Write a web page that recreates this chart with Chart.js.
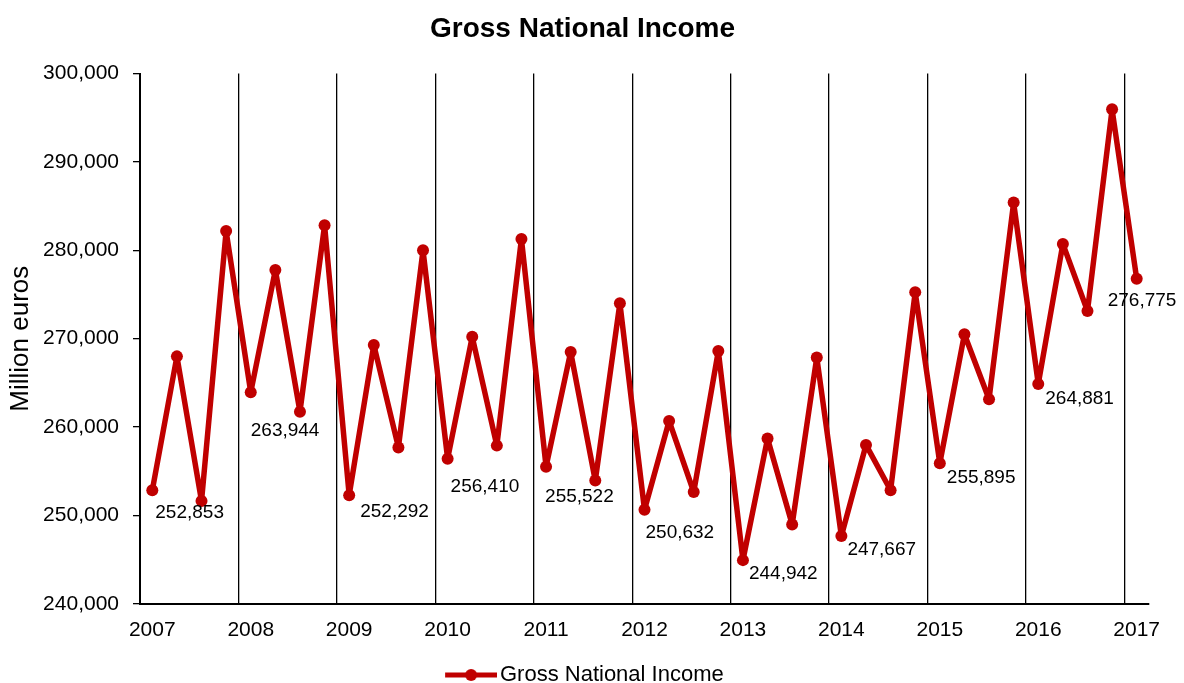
<!DOCTYPE html>
<html lang="en">
  <head>
    <meta charset="UTF-8" />
    <title>Gross National Income</title>
    <script src="https://cdn.jsdelivr.net/npm/chart.js@4.4.1/dist/chart.umd.min.js"></script>
    <style>
      body { margin: 0; background: #fff; }
    </style>
  </head>
  <body>
    <canvas id="chart" width="1184" height="683"></canvas>
    <script>
      // Gross national income per quarter, million euros, 2007 Q1 .. 2017 Q1
      const years = ['2007', '2008', '2009', '2010', '2011', '2012', '2013', '2014', '2015', '2016', '2017']
      const gni = [
        252853, 268000, 251640, 282180,
        263944, 277780, 261740, 282830,
        252292, 269290, 257700, 280000,
        256410, 270220, 257900, 281290,
        255522, 268490, 253940, 274020,
        250632, 260690, 252650, 268610,
        244942, 258710, 248970, 267880,
        247667, 257980, 252850, 275270,
        255895, 270500, 263150, 285410,
        264881, 280730, 273130, 295960,
        276775,
      ]
      // first quarter of each year gets its value written next to it
      const labelled = [0, 4, 8, 12, 16, 20, 24, 28, 32, 36, 40]

      const red = '#C00000'
      const font = 'Arial, "Liberation Sans", sans-serif'
      Chart.defaults.font.family = font
      Chart.defaults.color = '#000'

      // nudges for the value labels so they sit clear of the line
      const labelOffsets = [
        [3, 23], [0, 39], [11, 17], [3, 28], [-1, 30], [1, 23],
        [6, 14], [6, 14], [7, 14], [7, 15], [-29, 22],
      ]

      const valueLabels = {
        id: 'valueLabels',
        afterDatasetsDraw(chart) {
          const meta = chart.getDatasetMeta(0)
          const ctx = chart.ctx
          ctx.save()
          ctx.font = '19px ' + font
          ctx.fillStyle = '#000'
          ctx.textAlign = 'left'
          ctx.textBaseline = 'middle'
          labelled.forEach((idx, k) => {
            const pt = meta.data[idx]
            const [dx, dy] = labelOffsets[k]
            ctx.fillText(gni[idx].toLocaleString('en-US'), pt.x + dx, pt.y + dy)
          })
          ctx.restore()
        },
      }

      // line-with-dot swatch for the legend (left 12px left blank as a spacer)
      function legendMarker() {
        const c = document.createElement('canvas')
        c.width = 64
        c.height = 14
        const g = c.getContext('2d')
        g.strokeStyle = red
        g.fillStyle = red
        g.lineWidth = 5
        g.beginPath()
        g.moveTo(12, 7)
        g.lineTo(64, 7)
        g.stroke()
        g.beginPath()
        g.arc(38, 7, 6, 0, Math.PI * 2)
        g.fill()
        return c
      }

      const data = {
        datasets: [
          {
            label: 'Gross National Income',
            data: gni.map((v, i) => ({ x: i, y: v })),
            borderColor: red,
            backgroundColor: red,
            borderWidth: 5.5,
            borderJoinStyle: 'round',
            borderCapStyle: 'round',
            pointRadius: 6,
            pointBackgroundColor: red,
            pointBorderWidth: 0,
            tension: 0,
          },
        ],
      }

      const config = {
        type: 'line',
        data: data,
        plugins: [valueLabels],
        options: {
          responsive: false,
          animation: false,
          layout: { padding: { left: 16, right: 35, top: 0, bottom: -13 } },
          scales: {
            x: {
              type: 'linear',
              min: -0.5,
              max: gni.length - 0.5,
              // one gridline per year, on the boundary before Q1
              afterBuildTicks: (scale) => {
                scale.ticks = years.map((y, i) => ({ value: i * 4 - 0.5 }))
              },
              ticks: {
                callback: (v, i) => years[i],
                autoSkip: false,
                maxRotation: 0,
                padding: 14,
                labelOffset: 12.3, // centre year label on its Q1 point
                font: { size: 21 },
              },
              grid: { color: '#000', lineWidth: 1.3, drawTicks: false },
              border: { color: '#000', width: 2 },
            },
            y: {
              min: 240000,
              max: 300000,
              ticks: {
                stepSize: 10000,
                callback: (v) => v.toLocaleString('en-US'),
                padding: 14,
                font: { size: 21 },
              },
              grid: { drawOnChartArea: false, color: '#000', tickLength: 7, lineWidth: 1.3 },
              border: { color: '#000', width: 2 },
              title: {
                display: true,
                text: 'Million euros',
                font: { size: 26 },
                padding: { top: -10.6, bottom: 0 },
              },
              afterFit: (scale) => {
                scale.width = 124
              },
            },
          },
          plugins: {
            title: {
              display: true,
              text: 'Gross National Income',
              font: { size: 28, weight: 'bold' },
              padding: { top: 12, bottom: 28 },
            },
            legend: {
              position: 'bottom',
              labels: {
                usePointStyle: true,
                pointStyle: legendMarker(),
                pointStyleWidth: 47.7,
                padding: 7,
                font: { size: 22 },
              },
            },
            tooltip: { enabled: false },
          },
        },
      }

      const chart = new Chart(document.getElementById('chart'), config)
    </script>
  </body>
</html>
